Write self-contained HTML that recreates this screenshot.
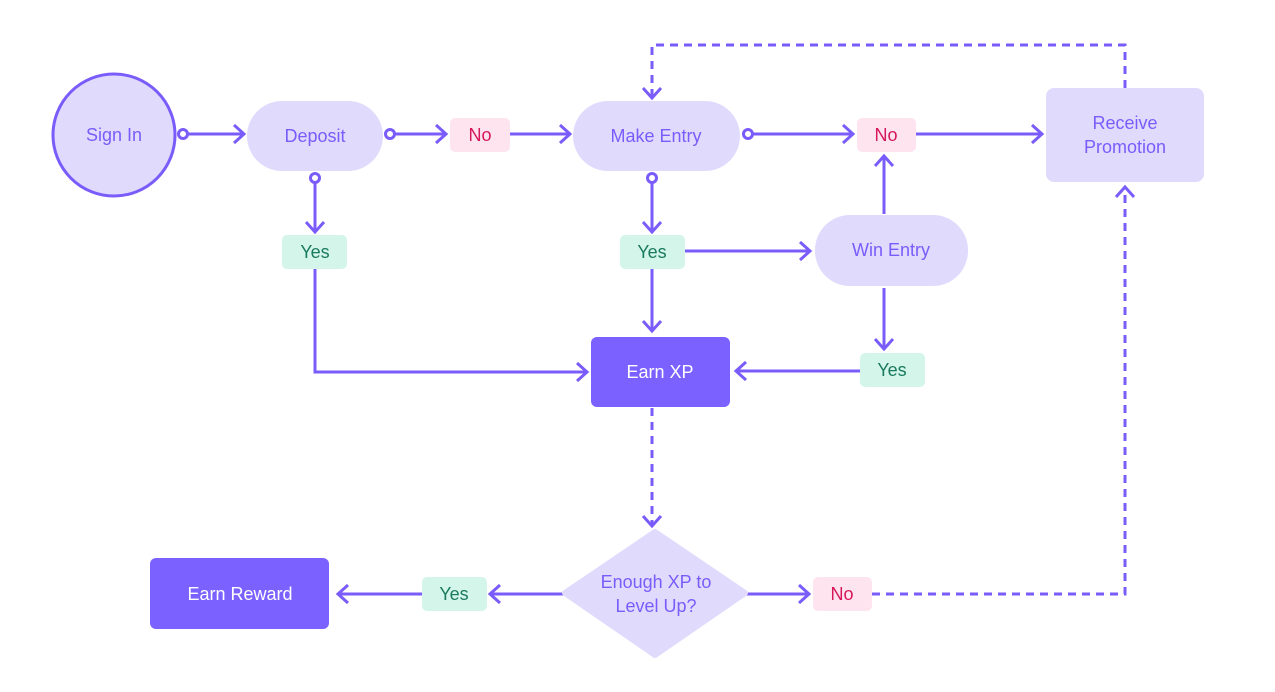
<!DOCTYPE html>
<html><head><meta charset="utf-8"><style>body{margin:0;background:#fff}svg{display:block}text{font-family:"Liberation Sans",sans-serif;font-size:18px;text-anchor:middle;dominant-baseline:central}</style></head><body>
<svg width="1275" height="692" viewBox="0 0 1275 692">
<defs><marker id="a" markerWidth="16" markerHeight="22" refX="12" refY="11" orient="auto" markerUnits="userSpaceOnUse"><path d="M2,2 L12,11 L2,20" fill="none" stroke="#7A5CFA" stroke-width="3"/></marker></defs>
<g stroke="#7A5CFA" stroke-width="3" fill="none">
<line x1="187" y1="134" x2="244" y2="134" marker-end="url(#a)"/>
<line x1="394" y1="134" x2="446" y2="134" marker-end="url(#a)"/>
<line x1="510" y1="134" x2="570" y2="134" marker-end="url(#a)"/>
<line x1="752" y1="134" x2="853" y2="134" marker-end="url(#a)"/>
<line x1="916" y1="134" x2="1042" y2="134" marker-end="url(#a)"/>
<polyline points="1125,88 1125,45 652,45 652,98" stroke-dasharray="8,6" marker-end="url(#a)"/>
<line x1="315" y1="182" x2="315" y2="232" marker-end="url(#a)"/>
<polyline points="315,269 315,372 587,372" marker-end="url(#a)"/>
<line x1="652" y1="182" x2="652" y2="232" marker-end="url(#a)"/>
<line x1="685" y1="251" x2="810" y2="251" marker-end="url(#a)"/>
<line x1="652" y1="269" x2="652" y2="331" marker-end="url(#a)"/>
<line x1="884" y1="214" x2="884" y2="156" marker-end="url(#a)"/>
<line x1="884" y1="288" x2="884" y2="349" marker-end="url(#a)"/>
<line x1="860" y1="371" x2="736" y2="371" marker-end="url(#a)"/>
<line x1="652" y1="408" x2="652" y2="526" stroke-dasharray="8,6" marker-end="url(#a)"/>
<line x1="747" y1="594" x2="809" y2="594" marker-end="url(#a)"/>
<polyline points="872,594 1125,594 1125,187" stroke-dasharray="8,6" marker-end="url(#a)"/>
<line x1="563" y1="594" x2="490" y2="594" marker-end="url(#a)"/>
<line x1="422" y1="594" x2="338" y2="594" marker-end="url(#a)"/>
<circle cx="183" cy="134" r="4.5" fill="#fff"/>
<circle cx="390" cy="134" r="4.5" fill="#fff"/>
<circle cx="748" cy="134" r="4.5" fill="#fff"/>
<circle cx="315" cy="178" r="4.5" fill="#fff"/>
<circle cx="652" cy="178" r="4.5" fill="#fff"/>
</g>
<circle cx="114" cy="135" r="61" fill="#E0DBFD" stroke="#7A5CFA" stroke-width="3"/>
<text x="114" y="135" fill="#7A5CFA">Sign In</text>
<rect x="247" y="101" width="136" height="70" rx="35" fill="#E0DBFD"/>
<text x="315" y="136" fill="#7A5CFA">Deposit</text>
<rect x="573" y="101" width="167" height="70" rx="35" fill="#E0DBFD"/>
<text x="656" y="136" fill="#7A5CFA">Make Entry</text>
<rect x="815" y="215" width="153" height="71" rx="35" fill="#E0DBFD"/>
<text x="891" y="250" fill="#7A5CFA">Win Entry</text>
<rect x="1046" y="88" width="158" height="94" rx="8" fill="#E0DBFD"/>
<text x="1125" y="123" fill="#7A5CFA">Receive</text>
<text x="1125" y="147" fill="#7A5CFA">Promotion</text>
<rect x="591" y="337" width="139" height="70" rx="6" fill="#7B61FF"/>
<text x="660" y="372" fill="#fff">Earn XP</text>
<rect x="150" y="558" width="179" height="71" rx="6" fill="#7B61FF"/>
<text x="240" y="594" fill="#fff">Earn Reward</text>
<path d="M655,532 L745,593 L655,655 L565,593 Z" fill="#E0DBFD" stroke="#E0DBFD" stroke-width="6" stroke-linejoin="round"/>
<text x="656" y="582" fill="#7A5CFA">Enough XP to</text>
<text x="656" y="606" fill="#7A5CFA">Level Up?</text>
<g fill="#FDE4EF"><rect x="450" y="118" width="60" height="34" rx="5"/><rect x="857" y="118" width="59" height="34" rx="5"/><rect x="813" y="577" width="59" height="34" rx="5"/></g>
<g fill="#D6175A"><text x="480" y="135">No</text><text x="886" y="135">No</text><text x="842" y="594">No</text></g>
<g fill="#D4F6EA"><rect x="282" y="235" width="65" height="34" rx="5"/><rect x="620" y="235" width="65" height="34" rx="5"/><rect x="860" y="353" width="65" height="34" rx="5"/><rect x="422" y="577" width="65" height="34" rx="5"/></g>
<g fill="#1A7A5E"><text x="315" y="252">Yes</text><text x="652" y="252">Yes</text><text x="892" y="370">Yes</text><text x="454" y="594">Yes</text></g>
</svg></body></html>
